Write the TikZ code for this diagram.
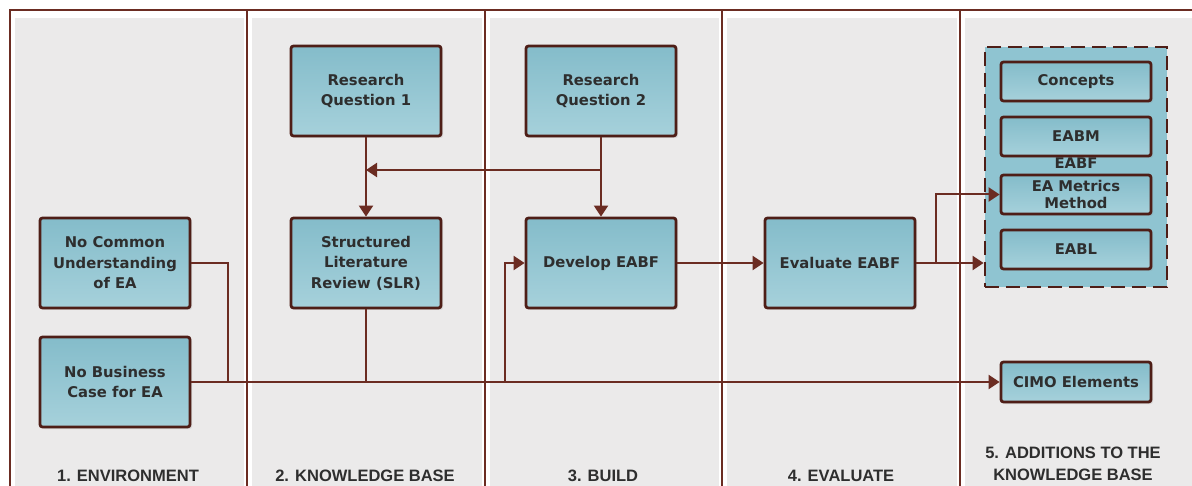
\documentclass[tikz,border=0pt]{standalone}
\usepackage{fontspec}
\setmainfont{DejaVu Sans}
\newfontfamily\colfont{Liberation Sans}
\usetikzlibrary{arrows.meta,shadows}
\definecolor{framebrown}{HTML}{6B2C22}
\definecolor{boxedge}{HTML}{4E1E17}
\definecolor{panelgray}{HTML}{EBEAEA}
\definecolor{tealtop}{HTML}{84BCCA}
\definecolor{tealbot}{HTML}{A6D1DB}
\definecolor{tealgroup}{HTML}{8FC4D1}
\definecolor{textgray}{HTML}{2E2E2E}

\begin{document}
\begin{tikzpicture}[x=1pt,y=-1pt,
    block/.style={draw=boxedge, line width=2.8pt, rounded corners=2.5pt,
      top color=tealtop, bottom color=tealbot, text=textgray,
      font=\fontsize{14.8}{20.5}\selectfont\bfseries, align=center,
      minimum width=150pt, minimum height=90pt, inner sep=2pt,
      drop shadow={shadow xshift=2pt, shadow yshift=-2pt, opacity=.18}},
    smallblock/.style={block, minimum height=39pt},
    groupbox/.style={draw=boxedge, line width=2.8pt, dash pattern=on 14pt off 7pt,
      fill=tealgroup, minimum width=182pt, minimum height=240pt},
    wire/.style={draw=framebrown, line width=2pt},
    flow/.style={wire, -{Triangle[length=11pt,width=14pt]}},
    colname/.style={font=\colfont\fontsize{16.5}{22}\selectfont\bfseries,
      text=textgray, align=center}]
  \useasboundingbox (0,0) rectangle (1192,486);
  \fill[white] (0,0) rectangle (1192,486);

  % columns
  \foreach \l/\r in {10/247,247/485,485/722,722/960,960/1196}
    \fill[panelgray] (\l+5,18) rectangle (\r-3,486);
  \draw[wire, line width=2.6pt] (10,486) -- (10,10) -- (1192,10);
  \foreach \x in {247,485,722,960}
    \draw[wire, line width=2.6pt] (\x,10) -- (\x,486);

  \node[colname] (env) at (128,476) {1. ENVIRONMENT};
  \node[colname] (kb) at (365,476) {2. KNOWLEDGE BASE};
  \node[colname] (build) at (603,476) {3. BUILD};
  \node[colname] (eval) at (841,476) {4. EVALUATE};
  \node[colname] (add) at (1073,464) {5. ADDITIONS TO THE\\KNOWLEDGE BASE};

  % blocks
  \node[block] (nocommon) at (115,263) {No Common\\Understanding\\of EA};
  \node[block] (nobusiness) at (115,382) {No Business\\Case for EA};
  \node[block] (rq1) at (366,91) {Research\\Question 1};
  \node[block] (slr) at (366,263) {Structured\\Literature\\Review (SLR)};
  \node[block] (rq2) at (601,91) {Research\\Question 2};
  \node[block] (develop) at (601,263) {Develop EABF};
  \node[block] (evaluate) at (840,263) {Evaluate EABF};

  \node[groupbox] (eabf) at (1076,167) {};
  \node[font=\fontsize{14.8}{20}\selectfont\bfseries, text=textgray] (eabfname) at (1076,163) {EABF};
  \node[smallblock] (concepts) at (1076,81.5) {Concepts};
  \node[smallblock] (eabm) at (1076,136.5) {EABM};
  \node[smallblock, font=\fontsize{14.8}{16.5}\selectfont\bfseries] (metrics) at (1076,194.5) {EA Metrics\\Method};
  \node[smallblock] (eabl) at (1076,249.5) {EABL};
  \node[smallblock, minimum height=40pt] (cimo) at (1076,382) {CIMO Elements};

  % connectors
  \coordinate (rqsplit) at (601,170);
  \coordinate (trunk) at (228,382);
  \coordinate (devsplit) at (505,382);
  \coordinate (evsplit) at (936,263);
  \draw[flow] (rq1) -- (slr);
  \draw[flow] (rq2) -- (develop);
  \draw[flow] (rqsplit) -- (rqsplit -| rq1.south);
  \draw[wire] (nocommon.east) -| (trunk);
  \draw[wire] (slr.south) -- (slr.south |- trunk);
  \draw[flow] (nobusiness.east) -- (cimo.west);
  \draw[flow] (devsplit) |- (develop.west);
  \draw[flow] (develop) -- (evaluate);
  \draw[flow] (evaluate.east) -- (evaluate.east -| eabf.west);
  \draw[flow] (evsplit) |- (metrics.west);
\end{tikzpicture}
\end{document}
